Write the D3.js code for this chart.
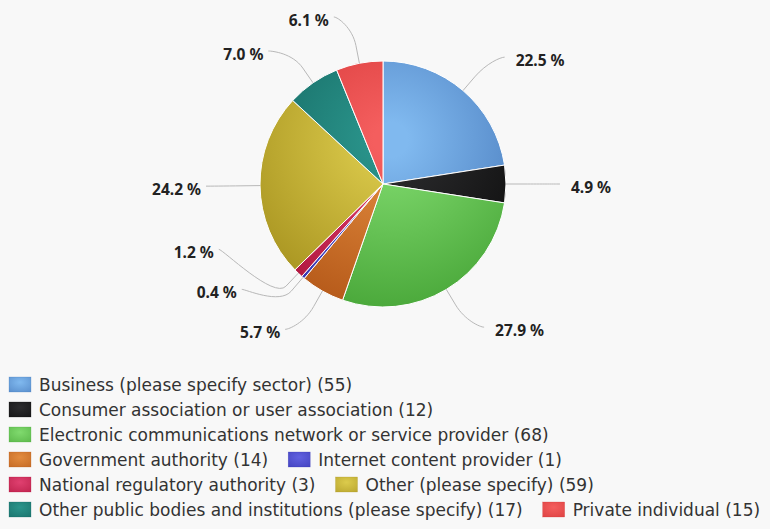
<!DOCTYPE html>
<html>
<head>
<meta charset="utf-8">
<script src="https://cdn.jsdelivr.net/npm/d3@7/dist/d3.min.js"></script>
<style>
  body { margin: 0; background: #f8f8f8; }
  svg { display: block; }
</style>
</head>
<body>
<div id="chart"></div>
<script>
// Respondent categories and their counts
const categories = [
  "Business (please specify sector)",
  "Consumer association or user association",
  "Electronic communications network or service provider",
  "Government authority",
  "Internet content provider",
  "National regulatory authority",
  "Other (please specify)",
  "Other public bodies and institutions (please specify)",
  "Private individual"
];
const counts = [55, 12, 68, 14, 1, 3, 59, 17, 15];
// gradient colours: centre of the pie -> rim
const lightColors = ["#80b9ef", "#2c2c2e", "#80da6e", "#e28b3e", "#6060e0",
                     "#e04070", "#dccb4c", "#2a948b", "#f45e5e"];
const darkColors = ["#4678ba", "#0c0c0c", "#4aa83a", "#b65a1a", "#3434b0",
                    "#b0163e", "#a89420", "#146660", "#d33434"];

function buildPie() {
  const width = 770;
  const height = 529;
  const cx = 383, cy = 184, radius = 123;

  const svg = d3.select("#chart")
    .append("svg")
    .attr("width", width)
    .attr("height", height);

  const total = d3.sum(counts);

  const defs = svg.append("defs");
  // slice gradients share the pie box as reference (coords local to the pie group)
  lightColors.forEach((c, i) => {
    const mix = d3.interpolateRgb(c, darkColors[i]);
    const g = defs.append("radialGradient")
      .attr("id", "slice" + i)
      .attr("gradientUnits", "userSpaceOnUse")
      .attr("cx", 8).attr("cy", -radius + 0.32 * 2 * radius)
      .attr("r", 0.7 * 2 * radius);
    g.append("stop").attr("offset", 0).attr("stop-color", c);
    g.append("stop").attr("offset", 0.1).attr("stop-color", c);
    g.append("stop").attr("offset", 1).attr("stop-color", darkColors[i]);

    const s = defs.append("radialGradient")
      .attr("id", "swatch" + i)
      .attr("cx", 0.5).attr("cy", 0.35).attr("r", 0.75);
    s.append("stop").attr("offset", 0).attr("stop-color", c);
    s.append("stop").attr("offset", 1).attr("stop-color", mix(0.6));
  });

  const pie = d3.pie().sort(null).value((d) => d);
  const arcs = pie(counts);
  const arc = d3.arc().innerRadius(0).outerRadius(radius);
  const edge = d3.arc().innerRadius(radius).outerRadius(radius);
  const brk = d3.arc().innerRadius(radius + 18).outerRadius(radius + 18);

  const g = svg.append("g").attr("transform", `translate(${cx},${cy})`);

  g.selectAll(".slice")
    .data(arcs)
    .enter()
    .append("path")
    .attr("class", "slice")
    .attr("d", arc)
    .attr("fill", (d, i) => `url(#slice${i})`)
    .attr("stroke", "#ffffff")
    .attr("stroke-width", 1)
    .attr("stroke-linejoin", "round");

  // label layout: y from angle, overlaps pushed upwards, then kept inside the chart
  const labelRy = radius + 44;
  const labelRx = radius + 50;
  const upGap = 40, downGap = 34;
  const topLimit = 17 - cy;
  const labels = arcs.map((d, i) => {
    const a = (d.startAngle + d.endAngle) / 2;
    return {
      i: i,
      a: a,
      right: Math.sin(a) >= 0,
      y: -Math.cos(a) * labelRy,
      text: (counts[i] / total * 100).toFixed(1) + " %"
    };
  });
  [true, false].forEach((side) => {
    const group = labels.filter((l) => l.right === side).sort((p, q) => q.y - p.y);
    for (let k = 1; k < group.length; k++) {
      group[k].y = Math.min(group[k].y, group[k - 1].y - upGap);
    }
    group.reverse();
    group[0].y = Math.max(group[0].y, topLimit);
    for (let k = 1; k < group.length; k++) {
      group[k].y = Math.max(group[k].y, group[k - 1].y + downGap);
    }
  });
  labels.forEach((l) => {
    const dy = Math.min(Math.abs(l.y), labelRx);
    const dx = Math.sqrt(labelRx * labelRx - dy * dy);
    l.x = l.right ? dx : -dx;
  });

  const lg = g.append("g").attr("class", "labels");

  lg.selectAll(".connector")
    .data(labels)
    .enter()
    .append("path")
    .attr("class", "connector")
    .attr("d", (l) => {
      const base = edge.centroid(arcs[l.i]);
      const b = brk.centroid(arcs[l.i]);
      const p = d3.path();
      p.moveTo(l.x + (l.right ? 4 : -4), l.y);
      p.bezierCurveTo(l.x, l.y, 2 * b[0] - base[0], 2 * b[1] - base[1], b[0], b[1]);
      p.lineTo(base[0], base[1]);
      return p.toString();
    })
    .attr("fill", "none")
    .attr("stroke", "#b8b8b8")
    .attr("stroke-width", 1);

  lg.selectAll(".label")
    .data(labels)
    .enter()
    .append("text")
    .attr("class", "label")
    .attr("x", (l) => l.right ? l.x + 15 : l.x - 9)
    .attr("y", (l) => l.y + 9)
    .attr("text-anchor", (l) => l.right ? "start" : "end")
    .style("font-family", "'Noto Sans', sans-serif")
    .style("font-weight", "bold")
    .style("font-size", "15.5px")
    .style("fill", "#222222")
    .text((l) => l.text);

  // legend: horizontal flow that wraps at the chart width
  const legend = svg.append("g").attr("class", "legend");
  const left = 9, maxRight = 768, rowH = 25, top = 384.5;
  const itemGap = 20, swW = 22, swH = 15, textPad = 8;
  let x = left, row = 0;
  categories.forEach((name, i) => {
    const item = legend.append("g");
    const t = item.append("text")
      .attr("x", swW + textPad)
      .attr("y", 6.5)
      .style("font-family", "'DejaVu Sans', sans-serif")
      .style("font-size", "17px")
      .style("fill", "#333333")
      .text(`${name} (${counts[i]})`);
    const w = swW + textPad + t.node().getComputedTextLength();
    if (x > left && x + w > maxRight) {
      x = left;
      row += 1;
    }
    item.attr("transform", `translate(${x},${top + row * rowH})`);
    item.insert("rect", "text")
      .attr("x", 0)
      .attr("y", -swH / 2)
      .attr("width", swW)
      .attr("height", swH)
      .attr("fill", `url(#swatch${i})`)
      .attr("stroke", darkColors[i])
      .attr("stroke-opacity", 0.5)
      .attr("stroke-width", 0.5);
    x += w + itemGap;
  });
}

window.onload = buildPie;
</script>
</body>
</html>
